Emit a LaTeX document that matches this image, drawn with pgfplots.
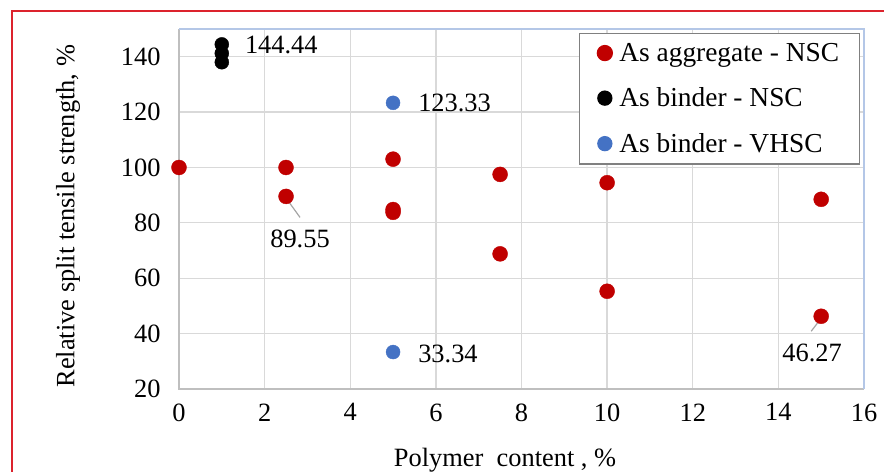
\documentclass[border=0pt]{standalone}
\usepackage{fontspec}
\setmainfont{Liberation Serif}
\usepackage{pgfplots}
\pgfplotsset{compat=1.18}
\definecolor{cRed}{RGB}{192,0,0}
\definecolor{cBlue}{RGB}{68,114,196}
\definecolor{cFrame}{RGB}{220,35,45}
\definecolor{cGrid}{RGB}{217,217,217}
\definecolor{cAxL}{RGB}{191,191,191}
\definecolor{cAxT}{RGB}{180,199,231}
\definecolor{cLead}{RGB}{165,165,165}
\newcommand\fs{\fontsize{26.5}{30}\selectfont}
\newcommand\fl{\fontsize{27.5}{31}\selectfont}
\begin{document}
\begin{tikzpicture}
\path[use as bounding box] (0,0) rectangle (884bp,472bp);
\draw[cFrame, line width=2.5bp] (12bp,-5bp) -- (12bp,461bp) -- (890bp,461bp);
\begin{axis}[
  at={(179bp,83bp)}, anchor=south west,
  scale only axis, width=685bp, height=360bp,
  xmin=0, xmax=16, ymin=20, ymax=150,
  xtick={0,2,...,16}, ytick={20,40,...,140},
  grid=major, major grid style={cGrid, line width=1.3bp},
  axis line style={draw=none},
  tick style={draw=none},
  /pgf/number format/assume math mode=true,
  tick label style={font=\fs},
  yticklabel style={xshift=-15bp},
  xticklabel style={yshift=-11bp},
  clip=false,
  legend style={at={(rel axis cs:0.994,0.99)}, anchor=north east,
    draw={rgb,255:red,128;green,128;blue,128}, line width=1.3bp, fill=white,
    font=\fl, inner xsep=18bp, inner ysep=8bp, row sep=21bp, column sep=5bp,
    nodes={inner sep=2bp}},
  legend cell align=left,
  legend image code/.code={\draw[#1] plot coordinates {(0bp,0bp)};},
]
\addplot[only marks, mark=*, mark size=7.5bp, cRed, mark options={fill=cRed, draw=cRed}] coordinates {
 (0,100) (2.5,100) (2.5,89.55) (5,103) (5,84.8) (5,83.8) (7.5,97.5) (7.5,68.8)
 (10,94.5) (10,55.3) (15,88.5) (15,46.27)};
\addlegendentry{As aggregate - NSC}
\addplot[only marks, mark=*, mark size=7bp, black, mark options={fill=black, draw=black}] coordinates {
 (1,144.44) (1,141.2) (1,138)};
\addlegendentry{As binder - NSC}
\addplot[only marks, mark=*, mark size=7bp, cBlue, mark options={fill=cBlue, draw=cBlue}] coordinates {
 (5,123.33) (5,33.34)};
\addlegendentry{As binder - VHSC}
% axis frame
\draw[cAxL, line width=1.5bp] (rel axis cs:0,1) -- (rel axis cs:0,0) -- (rel axis cs:1,0);
\draw[cAxT, line width=1.5bp] (rel axis cs:0,1) -- (rel axis cs:1,1) -- (rel axis cs:1,0);
% data labels
\node[font=\fs, anchor=west, inner sep=0pt] at ([xshift=23bp, yshift=-1bp]axis cs:1,144.44) {144.44};
\node[font=\fs, anchor=west, inner sep=0pt] at ([xshift=25bp]axis cs:5,123.33) {123.33};
\node[font=\fs, anchor=west, inner sep=0pt] at ([xshift=25bp, yshift=-2bp]axis cs:5,33.34) {33.34};
\draw[cLead, line width=1.2bp] ([xshift=1bp,yshift=-3bp]axis cs:2.5,89.55) -- ([xshift=14bp,yshift=-21bp]axis cs:2.5,89.55);
\node[font=\fs, inner sep=0pt] at ([xshift=14bp,yshift=-43bp]axis cs:2.5,89.55) {89.55};
\draw[cLead, line width=1.2bp] ([xshift=0bp,yshift=-2bp]axis cs:15,46.27) -- ([xshift=-10bp,yshift=-15bp]axis cs:15,46.27);
\node[font=\fs, inner sep=0pt] at ([xshift=-9bp,yshift=-37bp]axis cs:15,46.27) {46.27};
% axis labels
\node[font=\fs, rotate=90] at (rel axis cs:-0.162,0.48) {Relative split tensile strength, \%};
\node[font=\fs] at (rel axis cs:0.476,-0.197) {Polymer\ \ content , \%};
\end{axis}
\end{tikzpicture}
\end{document}
